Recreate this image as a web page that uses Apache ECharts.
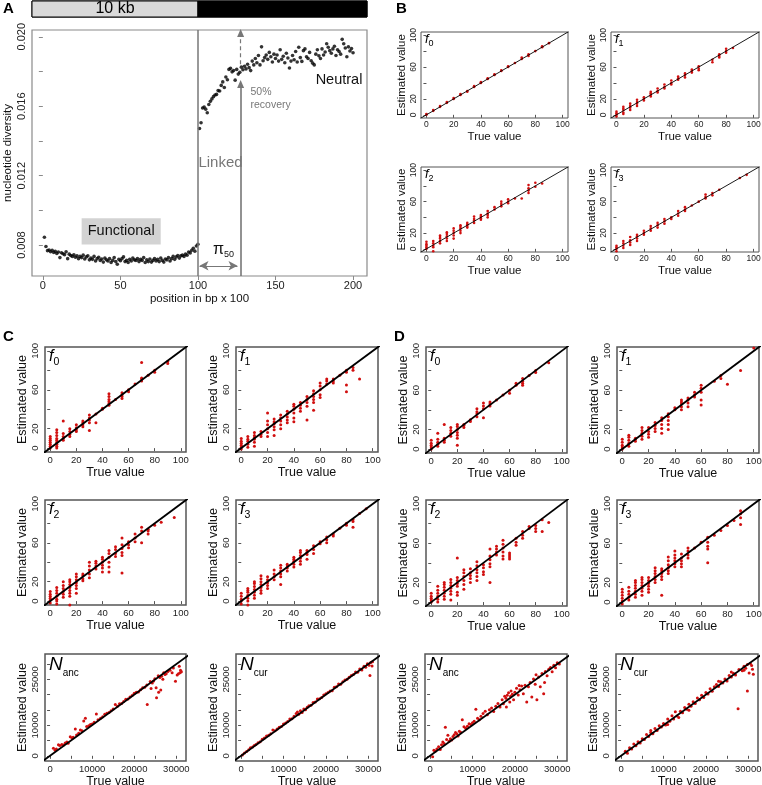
<!DOCTYPE html>
<html><head><meta charset="utf-8">
<script src="https://cdn.jsdelivr.net/npm/echarts@6/dist/echarts.min.js"></script>
<style>html,body{margin:0;padding:0;background:#fff}#c{width:762px;height:785px}</style>
</head><body><div id="c"></div><script>
// ---------------- DATA ----------------
// Panel A: nucleotide diversity at positions 1..200 (bp x 100)
const aDiversity = [
0.00845,0.00792,0.00768,0.00772,0.00762,0.00770,0.00758,0.00764,0.00752,0.00760,
0.00728,0.00756,0.00750,0.00745,0.00762,0.00722,0.00748,0.00740,0.00735,0.00744,
0.00730,0.00738,0.00722,0.00735,0.00728,0.00742,0.00720,0.00732,0.00738,0.00715,
0.00725,0.00718,0.00735,0.00708,0.00722,0.00730,0.00712,0.00720,0.00702,0.00725,
0.00715,0.00708,0.00722,0.00700,0.00712,0.00728,0.00705,0.00690,0.00718,0.00710,
0.00722,0.00732,0.00705,0.00712,0.00700,0.00718,0.00708,0.00725,0.00715,0.00712,
0.00722,0.00705,0.00718,0.00712,0.00728,0.00700,0.00715,0.00705,0.00720,0.00702,
0.00712,0.00722,0.00708,0.00718,0.00705,0.00726,0.00712,0.00702,0.00720,0.00715,
0.00728,0.00708,0.00722,0.00735,0.00718,0.00732,0.00740,0.00725,0.00738,0.00742,
0.00735,0.00748,0.00742,0.00760,0.00755,0.00770,0.00782,0.00765,0.00795,0.00805,
0.01472,0.01505,0.01590,0.01595,0.01583,0.01562,0.01610,0.01628,0.01642,0.01655,
0.01665,0.01668,0.01690,0.01688,0.01720,0.01740,0.01708,0.01768,0.01752,0.01812,
0.01818,0.01798,0.01805,0.01750,0.01812,0.01785,0.01795,0.01825,0.01810,0.01830,
0.01815,0.01842,0.01822,0.01805,0.01860,0.01838,0.01875,0.01850,0.01892,0.01838,
0.01942,0.01862,0.01880,0.01895,0.01870,0.01910,0.01885,0.01855,0.01900,0.01875,
0.01895,0.01860,0.01925,0.01870,0.01888,0.01850,0.01905,0.01878,0.01820,0.01860,
0.01892,0.01868,0.01915,0.01855,0.01940,0.01880,0.01858,0.01920,0.01930,0.01885,
0.01875,0.01910,0.01862,0.01848,0.01838,0.01900,0.01925,0.01890,0.01875,0.01930,
0.01895,0.01912,0.01960,0.01940,0.01920,0.01905,0.01930,0.01945,0.01892,0.01925,
0.01915,0.01900,0.01985,0.01960,0.01935,0.01885,0.01942,0.01918,0.01932,0.01908];
const aXTicks = [0, 50, 100, 150, 200];
const aYTicks = [0.008, 0.010, 0.012, 0.014, 0.016, 0.018, 0.020];
const aYLabels = [0.008, 0.012, 0.016, 0.020];
const aFunctionalEnd = 100;      // boundary between functional and linked region
const aRecovery50 = 127.5;        // position of 50% recovery

// f-panels: [true value, [estimated values]]
const bF0 = [[0,[0,1]],[5,[5,6]],[10,[10,11]],[15,[15,16]],[20,[20,21]],[25,[25,26]],[30,[29,30]],[35,[35,36]],[40,[40,41]],[45,[45,46]],[50,[50,51]],[55,[55,56]],[60,[60,61]],[65,[65]],[70,[70,72]],[75,[74,76]],[80,[80]],[85,[85,86]],[90,[90]]];
const bF1 = [[0,[-2,0,2,4]],[5,[1,3,6,8,10]],[10,[6,9,11,14]],[15,[11,14,16,19]],[20,[18,20,22]],[25,[23,25,27,29]],[30,[28,30,33]],[35,[33,35,38]],[40,[38,40,43]],[45,[44,46,48]],[50,[47,50,52]],[55,[53,55,57]],[60,[56,58,61]],[70,[66,69]],[75,[72,74,76]],[80,[78,80,83]],[85,[84]]];
const bF2 = [[0,[0,2,4,6,9]],[5,[-3,2,4,7,10]],[10,[7,10,13,15,17]],[15,[10,13,16,19,21]],[20,[13,17,20,23,26]],[25,[20,23,26,28,30]],[30,[27,29,31,33]],[35,[33,36,38,41]],[40,[37,39,41,43]],[45,[40,43,45,48]],[50,[50,53]],[55,[54,57,60]],[60,[58,60,63]],[65,[64]],[70,[64]],[75,[71,74,77,81]],[80,[79,84]],[85,[83]]];
const bF3 = [[0,[-3,0,2,4]],[5,[1,4,7,10]],[10,[5,8,11,15]],[15,[10,13,16,18]],[20,[18,20,23]],[25,[23,26,29]],[30,[27,30,33]],[35,[32,35,38]],[40,[38,40]],[45,[42,45,48]],[50,[48,50,53]],[55,[55]],[60,[60]],[65,[64,66,69]],[70,[68,71]],[75,[75]],[90,[90]],[95,[94]]];

const cF0 = [[0,[0,2,4,6,8,10,12]],[5,[0,2,4,6,8,10,13,16,19]],[10,[8,10,12,15,28]],[15,[12,14,17,20]],[20,[17,19,21,24]],[25,[22,24,26,28]],[30,[18,26,29,31,34]],[35,[26,35]],[40,[40,41]],[45,[44,46,48,50,53,56]],[50,[50]],[55,[51,53,55,57]],[60,[58,60]],[65,[66]],[70,[69,71,72,88]],[75,[75]],[80,[78,80]],[90,[87,89]]];
const cF1 = [[0,[-1,1,3,5,7,10]],[5,[1,4,7,9,12]],[10,[2,6,9,11,13,16]],[15,[12,14,17]],[20,[12,16,20,24,28,36]],[25,[13,19,22,25,27,30]],[30,[20,24,28,31,34]],[35,[26,29,32,35,38]],[40,[27,31,36,40,43,45]],[45,[38,41,44,47]],[50,[29,43,47,50,53]],[55,[39,47,50,53,56,59]],[60,[52,55,60,64,67]],[65,[66,69,71]],[70,[67,69,71]],[75,[75]],[80,[58,65,78,80]],[85,[80,83]],[90,[71]]];
const cF2 = [[0,[-2,1,3,5,7,10]],[5,[-3,0,2,5,8,11,14]],[10,[4,7,10,13,16,20]],[15,[-4,5,8,11,14,17,20,22]],[20,[8,13,16,19,22,25,28]],[25,[21,23,26,28]],[30,[24,28,32,36,40]],[35,[33,36,39,41]],[40,[30,34,37,40,43,45]],[45,[30,35,40,45,49,52]],[50,[46,49,53,56]],[55,[29,47,50,54,58,65]],[60,[55,58,61]],[65,[61,65,69]],[70,[60,72,76]],[75,[69,72,74]],[80,[78]],[85,[81]],[95,[86]]];
const cF3 = [[0,[-3,0,2,5,8]],[5,[-4,0,3,6,9,11,13]],[10,[3,6,9,12,15,18,20]],[15,[8,11,14,17,20,23,26]],[20,[13,16,19,22,25]],[25,[22,25,28,32]],[30,[17,25,28,31,34,37]],[35,[31,34,36,38]],[40,[35,38,41,43,45]],[45,[38,41,44,47,50,52]],[50,[43,48,50,52]],[55,[49,53,57]],[60,[59,61]],[65,[60,63,66]],[70,[67,69]],[75,[75]],[80,[78,80]],[85,[76,82,84]],[90,[90]],[95,[95]]];

const dF0 = [[0,[0,2,4,6,9]],[5,[3,5,7,10,16]],[10,[7,9,11,25]],[15,[13,16,19,22]],[20,[4,11,14,17,20,23,25]],[25,[22,24,25]],[30,[28,30]],[35,[33,36,38,41]],[40,[32,41,44,47]],[45,[44,46,48]],[50,[50]],[55,[55]],[60,[57,60]],[65,[65,67]],[70,[65,67,69,72]],[75,[75]],[80,[78,80]],[90,[88]]];
const dF1 = [[0,[0,2,4,7,10]],[5,[3,6,9,12,14]],[10,[8,10,11]],[15,[10,13,16,19,22]],[20,[12,15,18,22]],[25,[18,21,24,27]],[30,[16,21,25,29,32]],[35,[20,25,29,33,36]],[40,[40,42]],[45,[40,43,46,48,50]],[50,[43,47,50,52]],[55,[53,55,58]],[60,[45,50,58,62,65]],[70,[69]],[75,[72,75]],[80,[66]],[90,[80]],[100,[103]]];
const dF2 = [[0,[0,2,4,6,9]],[5,[0,3,6,9,12,16]],[10,[3,6,9,12,15,18,20]],[15,[2,8,11,14,17,20,23]],[20,[7,10,16,19,22,25,45]],[25,[13,18,22,26,30,33]],[30,[20,24,27,30,34]],[35,[22,26,30,33,37,41]],[40,[28,31,35,38]],[45,[20,36,39,43,47,54]],[50,[48,51,54,57]],[55,[44,47,51,55,59,63]],[60,[44,46,48,50]],[65,[58,61,65]],[70,[65,68,72]],[75,[75,77]],[80,[72,75,78]],[85,[72,84]],[90,[81]]];
const dF3 = [[0,[-2,1,4,7,10,13]],[5,[2,5,8,11,15]],[10,[5,8,11,14,17,20,22]],[15,[7,11,14,17,20,23,25]],[20,[10,13,16,19,22,25]],[25,[20,23,26,29,32,35]],[30,[7,23,26,29,32,34]],[35,[29,32,35,38,42,46]],[40,[36,39,42,45,48,52]],[45,[36,39,42,45,49]],[50,[45,48,52,55]],[55,[55]],[60,[61]],[65,[40,54,57,61,66]],[70,[68]],[75,[73]],[80,[78]],[85,[83]],[90,[79,86,90,93]]];

// N-panels: [true, estimated]
const cNanc = [[800,2500],[1200,1800],[1500,2200],[2000,3600],[2300,3400],[2800,3700],[3200,3500],[3600,4200],[4000,4500],[4300,4100],[4800,6200],[5200,5800],[5500,6100],[6000,8800],[6300,6800],[6800,7400],[7200,8400],[7600,8200],[8000,11400],[8400,12300],[8700,9600],[9200,9800],[9600,10200],[10000,10400],[10500,11000],[11000,13700],[11400,11800],[12000,12300],[12500,12800],[13000,13600],[13500,13900],[14000,14200],[14500,14700],[15000,15300],[15500,16800],[16000,16200],[16500,17000],[17000,17100],[17500,17800],[18000,18500],[18500,18600],[19000,19200],[19500,19700],[20000,20500],[20500,20800],[21000,20900],[21500,21600],[22000,22300],[22500,22400],[23000,23200],[23100,16800],[23800,24300],[24000,22000],[24300,23800],[24600,24500],[24900,25200],[25200,22300],[25300,19000],[25700,26200],[25800,20800],[26100,25600],[26300,21500],[26500,26000],[26800,25000],[27000,27200],[27300,26600],[27600,26800],[28000,27600],[28500,28000],[29000,27200],[29300,28700],[29800,24400],[30200,26400],[30500,26800],[30700,29300],[30900,27200],[31000,28000],[31200,27500]];
const cNcur = [[300,300],[800,900],[1300,1400],[1800,2000],[2200,2600],[2700,2900],[3100,3400],[3500,3700],[4000,4300],[4500,4600],[5000,5400],[5500,5800],[6000,6500],[6500,6700],[7000,7200],[7500,8400],[8000,8200],[8500,8800],[9000,9300],[9500,9600],[10000,10400],[10500,10700],[11000,11200],[11500,12000],[12000,12100],[12500,12900],[13000,13800],[13300,14300],[13600,13600],[14000,14700],[14400,14200],[14800,15300],[15200,15100],[15600,15900],[16000,16400],[16500,16500],[17000,17400],[17500,17600],[18000,18600],[18500,18700],[19000,19100],[19500,19900],[20000,20300],[20500,20700],[21000,21200],[21500,21300],[22000,22400],[22500,22600],[23000,23500],[23500,23400],[24000,24200],[24500,24800],[25000,25000],[25500,25700],[26000,26300],[26500,26600],[27000,27400],[27500,27300],[28000,28400],[28500,28100],[29000,29300],[29400,29000],[29800,30100],[30200,29600],[30600,30500],[31000,30800],[30400,26300],[30900,29400]];
const dNanc = [[600,-300],[900,1800],[1200,1500],[1600,2200],[2000,3000],[2400,2100],[2700,3600],[3000,4500],[3300,4000],[3600,9300],[3900,5300],[4200,6700],[4500,4800],[4800,5600],[5100,5200],[5400,6300],[5700,6900],[6000,7600],[6300,7200],[6600,6500],[6900,8000],[7200,7700],[7600,11800],[8000,9500],[8400,9000],[8800,9700],[9200,10500],[9600,10200],[10000,10800],[10400,11300],[10800,15200],[11200,12300],[11600,11800],[12000,12900],[12500,13800],[13000,14600],[13500,13400],[14000,15100],[14500,15600],[15000,14500],[15500,16200],[16000,17100],[16500,16000],[17000,18300],[17300,17000],[17600,19500],[17900,18800],[18200,19800],[18500,20600],[18800,17600],[19100,21200],[19400,20100],[19700,18300],[20000,20800],[20400,22100],[20800,19900],[21200,21600],[21600,22800],[22000,20300],[22400,23100],[22800,17600],[23200,22600],[23600,24000],[24000,19200],[24400,25100],[24800,23400],[25200,18300],[25600,25800],[26000,22600],[26400,26900],[26800,20300],[27200,27600],[27600,26200],[28000,28300],[28400,28900],[28800,27500],[29200,29600],[29600,28800],[30000,30400],[30500,30000],[18000,16000],[19000,19500],[21000,23000],[25000,26500],[27000,24000]];
const dNcur = [[1000,1500],[1500,800],[2000,2600],[2500,2200],[3000,3900],[3500,3300],[4000,4600],[4500,4200],[5000,5600],[5500,5300],[6000,7000],[6500,6300],[7000,7600],[7500,7200],[8000,8900],[8500,8300],[9000,9800],[9500,9400],[10000,10600],[10500,10100],[11000,12000],[11500,11300],[12000,13100],[12400,12000],[12800,14400],[13200,13000],[13600,12500],[14000,14600],[14500,14100],[15000,15800],[15500,15200],[16000,16900],[16500,16200],[17000,17700],[17500,17100],[18000,18900],[18500,18300],[19000,19800],[19500,19100],[20000,20700],[20500,20200],[21000,21900],[21500,21100],[22000,22600],[22500,23300],[23000,22700],[23500,24200],[24000,23800],[24500,25100],[25000,24500],[25500,26300],[26000,25800],[26500,27000],[27000,26400],[27600,15400],[27800,28200],[29800,21200],[28600,27800],[29000,29300],[29400,28600],[29800,29900],[30200,27100],[30500,30200],[30800,29500],[31000,28300],[31200,26700],[29000,28000],[26000,27400],[23000,24400],[16000,14900],[11000,10200],[7000,8300]];

const fTicks = [0, 20, 40, 60, 80, 100];
const fYLabels = [0, 20, 60, 100];
const nTicks = [0, 5000, 10000, 15000, 20000, 25000, 30000];
const nXLabels = [0, 10000, 20000, 30000];
const nYLabels = [0, 10000, 25000];

// ---------------- CHART ----------------
const FONT = '"Liberation Sans", Arial, Helvetica, sans-serif';
const RED = '#d10f0f';
const grids = [], xAxes = [], yAxes = [], series = [], graphics = [];
const groupsToPairs = g => g.flatMap(([t, es]) => es.map(e => [t, e]));

function addGrid(left, top, width, height, border, bw) {
  grids.push({left, top, width, height, show: true, borderColor: border, borderWidth: bw,
    backgroundColor: 'transparent', containLabel: false, outerBoundsMode: 'none'});
  return grids.length - 1;
}
function mkAxis(gi, isX, c) {
  const near = (list, v) => list.some(t => Math.abs(t - v) <= Math.abs(c.max - c.min) * 1e-6);
  return {
    type: 'value', gridIndex: gi, min: c.min, max: c.max, position: isX ? 'bottom' : 'left',
    axisLine: {show: false}, splitLine: {show: false},
    axisTick: {show: true, length: c.tickLen, customValues: c.ticks, lineStyle: {color: c.tickColor, width: c.tickW}},
    axisLabel: {show: true, customValues: c.labels, fontSize: c.labelSize, fontFamily: FONT, color: '#222',
      margin: c.margin, rotate: isX ? 0 : 90, hideOverlap: false,
      formatter: v => near(c.labels, v) ? c.fmt(v) : ''},
    name: c.name, nameLocation: 'middle', nameGap: c.nameGap,
    nameTextStyle: {fontSize: c.nameSize, fontFamily: FONT, color: '#111'}
  };
}
function subText(left, top, main, sub, mainSize, subSize, drop, italic) {
  graphics.push({type: 'text', left, top, silent: true, z: 50,
    style: {text: '{m|' + main + '}{s|' + sub + '}', rich: {
      m: {fontFamily: FONT, fontStyle: italic ? 'italic' : 'normal', fontSize: mainSize, fill: '#000'},
      s: {fontFamily: FONT, fontSize: subSize, fill: '#000', padding: [drop, 0, 0, 0]}}}});
}

function addScatterPanel(p) {
  const gi = addGrid(p.box[0], p.box[1], p.box[2], p.box[3], p.sty.border, p.sty.bw);
  const common = {tickLen: p.sty.tickLen, tickColor: p.sty.border, tickW: p.sty.tickW,
    labelSize: p.sty.labelSize, nameSize: p.sty.nameSize};
  xAxes.push(mkAxis(gi, true, Object.assign({}, common, p.x, {margin: p.sty.xMargin, name: 'True value', nameGap: p.sty.xNameGap})));
  yAxes.push(mkAxis(gi, false, Object.assign({}, common, p.y, {margin: p.sty.yMargin, name: 'Estimated value', nameGap: p.sty.yNameGap})));
  series.push({type: 'scatter', xAxisIndex: gi, yAxisIndex: gi, data: p.data, symbolSize: p.sty.dot,
    itemStyle: {color: RED, opacity: 1}, silent: true, animation: false});
  const lo = p.x.min * 2, hi = p.x.max * 2;
  series.push({type: 'line', xAxisIndex: gi, yAxisIndex: gi, data: [[lo, lo], [hi, hi]], symbol: 'none',
    showSymbol: false, clip: true, lineStyle: {color: '#000', width: p.sty.lineW}, silent: true, animation: false});
  subText(p.box[0] + p.sty.lblDx, p.box[1] + p.sty.lblDy, p.label[0], p.label[1], p.sty.lblMain, p.sty.lblSub, p.sty.lblDrop, true);
}

const styB = {border: '#555', bw: 1, tickLen: 3, tickW: 1, labelSize: 8.5, nameSize: 11.5, xMargin: 2.5, yMargin: 3,
  xNameGap: 11, yNameGap: 10, dot: 2.6, lineW: 0.9, lblDx: 4, lblDy: 1, lblMain: 13, lblSub: 9, lblDrop: 8};
const styC = {border: '#555', bw: 1.5, tickLen: 3, tickW: 1, labelSize: 9.5, nameSize: 12.5, xMargin: 3, yMargin: 5,
  xNameGap: 13, yNameGap: 16, dot: 3, lineW: 1.8, lblDx: 4, lblDy: 2, lblMain: 16, lblSub: 10.5, lblDrop: 10};
const styN = Object.assign({}, styC, {lblMain: 19, lblSub: 10, lblDrop: 17, lblDy: 1});

const fAx = {min: -4, max: 104, ticks: fTicks, fmt: v => String(Math.round(v))};
const fX = Object.assign({}, fAx, {labels: fTicks});
const fY = Object.assign({}, fAx, {labels: fYLabels});
const nX = {min: -1200, max: 32300, ticks: nTicks, labels: nXLabels, fmt: v => String(Math.round(v))};
const nY = {min: -1700, max: 33300, ticks: nTicks, labels: nYLabels, fmt: v => String(Math.round(v))};

// ----- Panel A -----
const A_X = {min: -7, max: 209};
const A_Y = {min: 0.00622, max: 0.02039};
const gA = addGrid(32, 30, 335, 246, '#8a8a8a', 1.2);
const aStyle = {tickLen: 4, tickColor: '#8a8a8a', tickW: 1, labelSize: 11, nameSize: 11.5};
xAxes.push(mkAxis(gA, true, Object.assign({}, aStyle, A_X, {ticks: aXTicks, labels: aXTicks, fmt: v => String(Math.round(v)),
  margin: 4, name: 'position in bp x 100', nameGap: 17})));
yAxes.push(mkAxis(gA, false, Object.assign({}, aStyle, A_Y, {ticks: aYTicks, labels: aYLabels, fmt: v => v.toFixed(3),
  margin: 5, name: 'nucleotide diversity', nameGap: 18})));
const GRAYL = '#777';
series.push({type: 'scatter', xAxisIndex: gA, yAxisIndex: gA, silent: true, animation: false,
  data: aDiversity.map((v, i) => [i + 1, v]), symbolSize: 3.6, itemStyle: {color: '#000'},
  markArea: {silent: true, animation: false, data: [[
    {coord: [25, 0.00954], itemStyle: {color: '#d3d3d3'},
     label: {show: true, position: 'inside', formatter: 'Functional', fontFamily: FONT, fontSize: 14.5, color: '#111'}},
    {coord: [76, 0.00804]}]]},
  markLine: {silent: true, animation: false, label: {show: false}, symbol: ['none', 'none'],
    data: [
      [{coord: [aFunctionalEnd, A_Y.min], lineStyle: {color: GRAYL, width: 1.5, type: 'solid'}},
       {coord: [aFunctionalEnd, A_Y.max]}],
      [{coord: [aRecovery50, A_Y.min], symbol: 'none', lineStyle: {color: GRAYL, width: 1.6, type: 'solid'}},
       {coord: [aRecovery50, 0.01728], symbol: 'triangle', symbolSize: [7, 8]}],
      [{coord: [aRecovery50, 0.01842], symbol: 'none', lineStyle: {color: GRAYL, width: 1.2, type: [4, 3]}},
       {coord: [aRecovery50, 0.02022], symbol: 'triangle', symbolSize: [7, 8]}],
      [{coord: [aFunctionalEnd + 1, 0.00681], symbol: 'arrow', symbolSize: [7, 9], lineStyle: {color: GRAYL, width: 1.2, type: 'solid'}},
       {coord: [125.5, 0.00681], symbol: 'arrow', symbolSize: [7, 9]}]
    ]}
});
// top bar
const gBar = addGrid(32, 1, 335, 16, '#000', 1);
xAxes.push({type: 'value', gridIndex: gBar, min: A_X.min, max: A_X.max, show: false});
yAxes.push({type: 'value', gridIndex: gBar, min: 0, max: 1, show: false});
series.push({type: 'scatter', xAxisIndex: gBar, yAxisIndex: gBar, data: [], silent: true, animation: false,
  markArea: {silent: true, animation: false, data: [
    [{xAxis: A_X.min, itemStyle: {color: '#d9d9d9', borderColor: '#000', borderWidth: 1},
      label: {show: true, position: 'inside', formatter: '10 kb', fontFamily: FONT, fontSize: 16, color: '#000'}},
     {xAxis: aFunctionalEnd}],
    [{xAxis: aFunctionalEnd, itemStyle: {color: '#000', borderColor: '#000', borderWidth: 1}}, {xAxis: A_X.max}]
  ]}});
function txt(x, y, text, size, color, align, extra) {
  graphics.push({type: 'text', x, y, silent: true, z: 50,
    style: Object.assign({text, fontFamily: FONT, fontSize: size, fill: color, align: align || 'center', verticalAlign: 'middle'}, extra || {})});
}
txt(220.5, 163, 'Linked', 15, GRAYL);
txt(339, 80, 'Neutral', 14.5, '#111');
txt(250.5, 92, '50%', 10.5, GRAYL, 'left');
txt(250.5, 105.5, 'recovery', 10.5, GRAYL, 'left');
graphics.push({type: 'text', left: 213, top: 242, silent: true, z: 50,
  style: {text: '{m|π}{s|50}', rich: {m: {fontFamily: FONT, fontSize: 16, fill: '#111'},
    s: {fontFamily: FONT, fontSize: 9, fill: '#111', padding: [9, 0, 0, 0]}}}});

// panel letters
txt(3, 9, 'A', 15, '#000', 'left', {fontWeight: 'bold'});
txt(396, 9, 'B', 15, '#000', 'left', {fontWeight: 'bold'});
txt(3, 337, 'C', 15, '#000', 'left', {fontWeight: 'bold'});
txt(394, 337, 'D', 15, '#000', 'left', {fontWeight: 'bold'});

// ----- Panels B, C, D -----
const panels = [
  {box: [421, 32, 147, 86], data: groupsToPairs(bF0), sty: styB, x: fX, y: fY, label: ['f', '0']},
  {box: [611, 32, 148, 86], data: groupsToPairs(bF1), sty: styB, x: fX, y: fY, label: ['f', '1']},
  {box: [421, 167, 147, 85], data: groupsToPairs(bF2), sty: styB, x: fX, y: fY, label: ['f', '2']},
  {box: [611, 167, 148, 85], data: groupsToPairs(bF3), sty: styB, x: fX, y: fY, label: ['f', '3']},
  {box: [45, 347, 141, 105], data: groupsToPairs(cF0), sty: styC, x: fX, y: fY, label: ['f', '0']},
  {box: [236, 347, 142, 105], data: groupsToPairs(cF1), sty: styC, x: fX, y: fY, label: ['f', '1']},
  {box: [45, 500, 141, 105], data: groupsToPairs(cF2), sty: styC, x: fX, y: fY, label: ['f', '2']},
  {box: [236, 500, 142, 105], data: groupsToPairs(cF3), sty: styC, x: fX, y: fY, label: ['f', '3']},
  {box: [45, 654, 141, 107], data: cNanc, sty: styN, x: nX, y: nY, label: ['N', 'anc']},
  {box: [236, 654, 142, 107], data: cNcur, sty: styN, x: nX, y: nY, label: ['N', 'cur']},
  {box: [426, 347, 141, 106], data: groupsToPairs(dF0), sty: styC, x: fX, y: fY, label: ['f', '0']},
  {box: [617, 347, 142, 106], data: groupsToPairs(dF1), sty: styC, x: fX, y: fY, label: ['f', '1']},
  {box: [426, 500, 141, 106], data: groupsToPairs(dF2), sty: styC, x: fX, y: fY, label: ['f', '2']},
  {box: [617, 500, 142, 106], data: groupsToPairs(dF3), sty: styC, x: fX, y: fY, label: ['f', '3']},
  {box: [425, 654, 142, 107], data: dNanc, sty: styN, x: nX, y: nY, label: ['N', 'anc']},
  {box: [616, 654, 142, 107], data: dNcur, sty: styN, x: nX, y: nY, label: ['N', 'cur']}
];
panels.forEach(addScatterPanel);

const chart = echarts.init(document.getElementById('c'));
chart.setOption({animation: false, backgroundColor: '#fff', grid: grids, xAxis: xAxes, yAxis: yAxes, series, graphic: graphics});
</script></body></html>
